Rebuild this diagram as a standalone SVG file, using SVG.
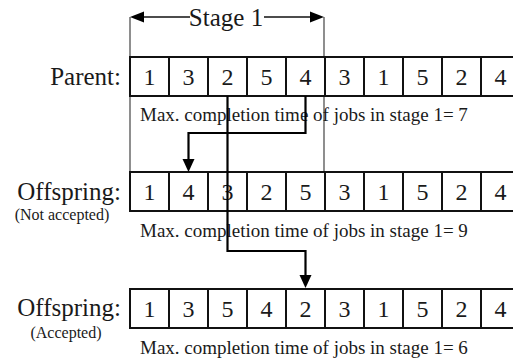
<svg xmlns="http://www.w3.org/2000/svg" width="513" height="360" viewBox="0 0 513 360" font-family="'Liberation Serif', 'DejaVu Serif', 'Times New Roman', serif">
<style>
text{font-family:"Liberation Serif","DejaVu Serif","Times New Roman",serif;fill:#1a1a1a}
.lbl{font-size:25px;text-anchor:end}
.sub{font-size:16px;text-anchor:middle}
.num{font-size:24px;text-anchor:middle}
.cap{font-size:19px}
.cell{fill:#fff;stroke:#111;stroke-width:2}
.thin{stroke:#444;stroke-width:1.2;fill:none}
.conn{stroke:#000;stroke-width:2.2;fill:none}
</style>

<g id="stage1">
<line class="thin" x1="130" y1="17" x2="130" y2="172"/>
<line class="thin" x1="324" y1="17" x2="324" y2="172"/>
<line x1="142" y1="17" x2="190" y2="17" stroke="#111" stroke-width="1.3"/>
<line x1="264" y1="17" x2="312" y2="17" stroke="#111" stroke-width="1.3"/>
<path d="M130,17 L144,11.5 L144,22.5 Z" fill="#000"/>
<path d="M324,17 L310,11.5 L310,22.5 Z" fill="#000"/>
<text x="226" y="26" font-family="Liberation Serif, serif" style="font-size:25px;text-anchor:middle">Stage 1</text>
</g>

<g id="parent">
<text class="lbl" x="121" y="85">Parent:</text>
<g transform="translate(130,57)">
<rect class="cell" x="0" y="0" width="39" height="39"/>
<rect class="cell" x="39" y="0" width="39" height="39"/>
<rect class="cell" x="78" y="0" width="39" height="39"/>
<rect class="cell" x="117" y="0" width="39" height="39"/>
<rect class="cell" x="156" y="0" width="39" height="39"/>
<rect class="cell" x="195" y="0" width="39" height="39"/>
<rect class="cell" x="234" y="0" width="39" height="39"/>
<rect class="cell" x="273" y="0" width="39" height="39"/>
<rect class="cell" x="312" y="0" width="39" height="39"/>
<rect class="cell" x="351" y="0" width="39" height="39"/>
<text class="num" x="19.5" y="28">1</text>
<text class="num" x="58.5" y="28">3</text>
<text class="num" x="97.5" y="28">2</text>
<text class="num" x="136.5" y="28">5</text>
<text class="num" x="175.5" y="28">4</text>
<text class="num" x="214.5" y="28">3</text>
<text class="num" x="253.5" y="28">1</text>
<text class="num" x="292.5" y="28">5</text>
<text class="num" x="331.5" y="28">2</text>
<text class="num" x="370.5" y="28">4</text>
</g>
<text class="cap" x="140" y="121">Max. completion time of jobs in stage 1= 7</text>
</g>

<g id="offspring1">
<text class="lbl" x="121" y="200">Offspring:</text>
<text class="sub" x="62" y="220">(Not accepted)</text>
<g transform="translate(130,172)">
<rect class="cell" x="0" y="0" width="39" height="39"/>
<rect class="cell" x="39" y="0" width="39" height="39"/>
<rect class="cell" x="78" y="0" width="39" height="39"/>
<rect class="cell" x="117" y="0" width="39" height="39"/>
<rect class="cell" x="156" y="0" width="39" height="39"/>
<rect class="cell" x="195" y="0" width="39" height="39"/>
<rect class="cell" x="234" y="0" width="39" height="39"/>
<rect class="cell" x="273" y="0" width="39" height="39"/>
<rect class="cell" x="312" y="0" width="39" height="39"/>
<rect class="cell" x="351" y="0" width="39" height="39"/>
<text class="num" x="19.5" y="28">1</text>
<text class="num" x="58.5" y="28">4</text>
<text class="num" x="97.5" y="28">3</text>
<text class="num" x="136.5" y="28">2</text>
<text class="num" x="175.5" y="28">5</text>
<text class="num" x="214.5" y="28">3</text>
<text class="num" x="253.5" y="28">1</text>
<text class="num" x="292.5" y="28">5</text>
<text class="num" x="331.5" y="28">2</text>
<text class="num" x="370.5" y="28">4</text>
</g>
<text class="cap" x="140" y="237">Max. completion time of jobs in stage 1= 9</text>
</g>

<g id="offspring2">
<text class="lbl" x="121" y="316">Offspring:</text>
<text class="sub" x="66" y="338">(Accepted)</text>
<g transform="translate(130,289)">
<rect class="cell" x="0" y="0" width="39" height="39"/>
<rect class="cell" x="39" y="0" width="39" height="39"/>
<rect class="cell" x="78" y="0" width="39" height="39"/>
<rect class="cell" x="117" y="0" width="39" height="39"/>
<rect class="cell" x="156" y="0" width="39" height="39"/>
<rect class="cell" x="195" y="0" width="39" height="39"/>
<rect class="cell" x="234" y="0" width="39" height="39"/>
<rect class="cell" x="273" y="0" width="39" height="39"/>
<rect class="cell" x="312" y="0" width="39" height="39"/>
<rect class="cell" x="351" y="0" width="39" height="39"/>
<text class="num" x="19.5" y="28">1</text>
<text class="num" x="58.5" y="28">3</text>
<text class="num" x="97.5" y="28">5</text>
<text class="num" x="136.5" y="28">4</text>
<text class="num" x="175.5" y="28">2</text>
<text class="num" x="214.5" y="28">3</text>
<text class="num" x="253.5" y="28">1</text>
<text class="num" x="292.5" y="28">5</text>
<text class="num" x="331.5" y="28">2</text>
<text class="num" x="370.5" y="28">4</text>
</g>
<text class="cap" x="140" y="354">Max. completion time of jobs in stage 1= 6</text>
</g>

<g id="connectors">
<path class="conn" d="M305.5,96 V133 H188.5 V160"/>
<path d="M188.5,172 L182.5,159 L194.5,159 Z" fill="#000"/>
<path class="conn" d="M227.5,96 V251 H305.5 V276"/>
<path d="M305.5,288 L299.5,275 L311.5,275 Z" fill="#000"/>
</g>
</svg>
